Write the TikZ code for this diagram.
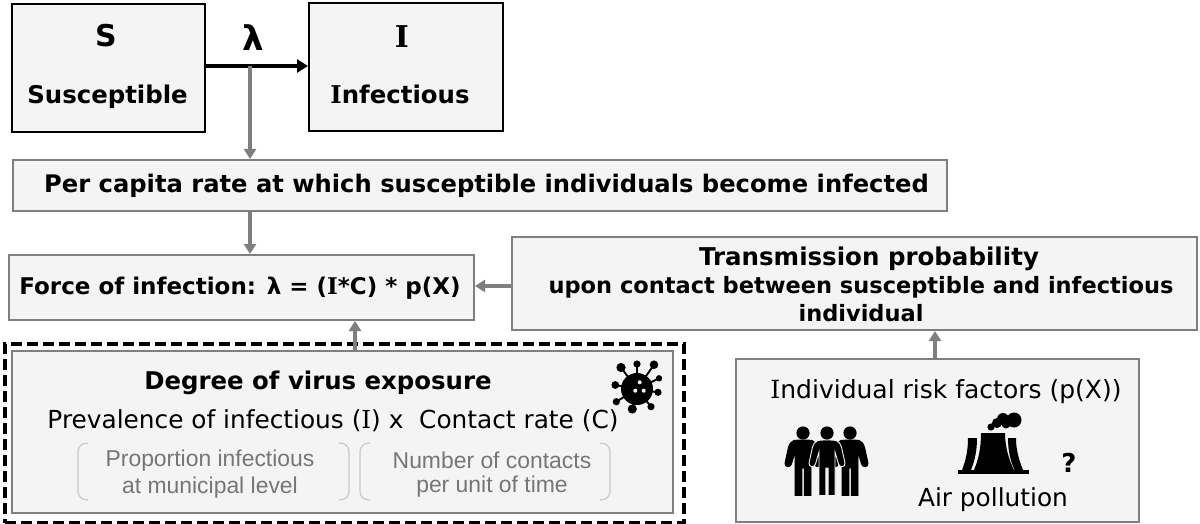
\documentclass[tikz,border=0pt]{standalone}
\usepackage{fontspec}
\setmainfont{DejaVu Sans}
\newfontfamily\arialf{Liberation Sans}
\newfontfamily\serifI{DejaVu Serif}
\usetikzlibrary{arrows.meta}
\definecolor{boxfill}{HTML}{F4F4F4}
\definecolor{boxgray}{HTML}{7F7F7F}
\definecolor{txtgray}{HTML}{767676}
\definecolor{brk}{HTML}{C8C8C8}
\newcommand{\fs}[1]{\fontsize{#1}{#1}\selectfont}
\newcommand{\II}{{\serifI I}}
\tikzset{
 x=1pt,y=-1pt,
 darkbox/.style={draw=black,line width=1.6pt,fill=boxfill},
 graybox/.style={draw=boxgray,line width=2pt,fill=boxfill},
 conn/.style={draw=boxgray,line width=3.2pt,-{Triangle[length=10pt,width=12pt]}},
 label/.style={inner sep=0pt,align=center,font=\bfseries},
 plain/.style={inner sep=0pt,align=center},
 brackets/.style={draw=brk,line width=1.2pt},
}
\newcommand{\boxnode}[6]{% name, style, x1, y1, x2, y2
 \node[#2,minimum width=#5pt-#3pt,minimum height=#6pt-#4pt,inner sep=0pt,anchor=north west] (#1) at (#3,#4) {};}
\newcommand{\personicon}[2]{% cx, outline colour
 \begin{scope}[shift={(#1,433)}]
  \filldraw[fill=black,draw=#2,line width=0.9pt] (-9,7.4) .. controls (-4,6.8) and (4,6.8) .. (9,7.4)
    .. controls (12,8.2) and (13.5,11) .. (14.5,14) -- (18,30) .. controls (18.5,34.5) and (12.5,35) .. (11.5,31)
    -- (8,19) -- (8,62.5) -- (1.2,62.5) -- (1.2,35) -- (-1.2,35) -- (-1.2,62.5) -- (-8,62.5) -- (-8,19)
    -- (-11.5,31) .. controls (-12.5,35) and (-18.5,34.5) .. (-18,30)
    -- (-14.5,14) .. controls (-13.5,11) and (-12,8.2) .. (-9,7.4) -- cycle;
  \fill[black] (0,0) circle (6.6);
 \end{scope}}
\begin{document}
\begin{tikzpicture}
\useasboundingbox (0,0) rectangle (1200,524);
\fill[white] (0,0) rectangle (1200,524);

% boxes
\boxnode{S}{darkbox}{11}{3}{204}{131}
\boxnode{I}{darkbox}{308}{2}{502}{130}
\boxnode{pc}{graybox}{12}{159}{946}{210}
\boxnode{foi}{graybox}{8}{254}{473}{319}
\boxnode{tp}{graybox}{511}{236}{1196}{329}
\node[draw=black,line width=3.6pt,dash pattern=on 11pt off 5pt,minimum width=679pt,minimum height=179pt,inner sep=0pt,anchor=north west] (dash) at (3,342) {};
\boxnode{dve}{graybox}{11}{350}{672}{512}
\boxnode{risk}{graybox}{735}{358}{1138}{521}

% connectors
\draw[black,line width=3.8pt,-{Triangle[length=11pt,width=13pt]}] (S.east |- 0,66) coordinate (sout) -- (I.west |- 0,66) coordinate (iin);
\coordinate (lam) at (250,66);
\draw[conn] (lam) -- (lam |- pc.north);
\coordinate (pcx) at (250,210);
\draw[conn] (pcx) -- (pcx |- foi.north);
\draw[conn] (tp.west |- 0,286) -- (foi.east |- 0,286);
\coordinate (dx) at (355,350);
\draw[conn] (dx) -- (dx |- foi.south);
\coordinate (rx) at (935,358);
\draw[conn] (rx) -- (rx |- tp.south);

% texts
\node[label,font=\fs{30}\bfseries] (tS) at (106,36) {S};
\node[label,font=\fs{24.4}\bfseries] (tSus) at (107.5,97) {Susceptible};
\node[label,font=\fs{30}\bfseries] (tI) at (402,37) {\II};
\node[label,font=\fs{24.4}\bfseries] (tInf) at (400,94) {\II nfectious};
\node[label,font=\fs{34}\bfseries] (tl) at (253,38) {λ};
\node[label,font=\fs{24.2}\bfseries] (tpc) at (486.5,186) {Per capita rate at which susceptible individuals become infected};
\node[label,font=\fs{23}\bfseries] (tfoi) at (240,288) {Force of infection: λ = (\II*C) * p(X)};
\node[label,font=\fs{24.5}\bfseries] (ttp1) at (869,259) {Transmission probability};
\node[label,font=\fs{22.5}\bfseries] (ttp2) at (861,287) {upon contact between susceptible and infectious};
\node[label,font=\fs{22.5}\bfseries] (ttp3) at (861,313) {individual};
\node[label,font=\fs{24.4}\bfseries] (tdeg) at (318,383) {Degree of virus exposure};
\node[plain,font=\fs{24.8}] (tprev) at (333,421) {Prevalence of infectious (\II) x\ \ Contact rate (C)};
\node[plain,font=\fs{22.9}\arialf,text=txtgray] (tprop1) at (210,461) {Proportion infectious};
\node[plain,font=\fs{22.9}\arialf,text=txtgray] (tprop2) at (210,488) {at municipal level};
\node[plain,font=\fs{22.9}\arialf,text=txtgray] (tnum1) at (492,460) {Number of contacts};
\node[plain,font=\fs{22.9}\arialf,text=txtgray] (tnum2) at (492,487) {per unit of time};
\node[plain,font=\fs{25}] (trisk) at (946,392) {\II ndividual risk factors (p(X))};
\node[plain,font=\fs{24.8}] (tair) at (993,500) {Air pollution};
\node[label,font=\fs{26}\bfseries] (tq) at (1069,463) {?};

% brackets
\draw[brackets] (88,443) .. controls (81,443) and (78,447) .. (78,452) -- (78,491) .. controls (78,496) and (81,500) .. (88,500);
\draw[brackets] (339,443) .. controls (346,443) and (349,447) .. (349,452) -- (349,491) .. controls (349,496) and (346,500) .. (339,500);
\draw[brackets] (370,443) .. controls (363,443) and (360,447) .. (360,452) -- (360,491) .. controls (360,496) and (363,500) .. (370,500);
\draw[brackets] (600,443) .. controls (607,443) and (610,447) .. (610,452) -- (610,491) .. controls (610,496) and (607,500) .. (600,500);

% virus icon
\begin{scope}[shift={(637,389)}]
 \foreach \px/\py/\r in {-16/-21.5/4.6, 0/-25/3.6, 17/-24.3/4.3, 22/-10.7/3.2, 21/3.3/3.6, 14/17.7/3.6, -4.7/20/4.6, -20.7/12.7/3.6, -21.7/-4/3.9}{
  \draw[black,line width=1.9pt] (0,0) -- (\px,\py);
  \fill[black] (\px,\py) circle (\r);
 }
 \fill[black] (0,0) circle (16);
 \fill[boxfill] (2.7,-6.7) circle (2) (-1.7,1.7) circle (2) (6.7,1.7) circle (2);
\end{scope}

% people icon
\personicon{803}{black}
\personicon{850}{black}
\personicon{827}{boxfill}

% factory icon
\fill[black] (958,470) rectangle (1029,473.5);
\fill[black] (968,438) -- (977,438) .. controls (977,450) and (975,460) .. (971,470) -- (962,470)
  .. controls (966,460) and (968,450) .. (968,438) -- cycle;
\fill[black] (981,433) -- (1005,433) .. controls (1005,447) and (1009,460) .. (1014,470) -- (974,470)
  .. controls (979,458) and (981,447) .. (981,433) -- cycle;
\fill[black] (1008,438) -- (1016,438) .. controls (1016,450) and (1019,460) .. (1023,470) -- (1014.5,470)
  .. controls (1010,460) and (1008,450) .. (1008,438) -- cycle;
\fill[black] (991,427) circle (3.6) (997,423) circle (5) (1003,419) circle (6) (1006,424) circle (4.5) (1014,420) circle (7.5);

\end{tikzpicture}
\end{document}
